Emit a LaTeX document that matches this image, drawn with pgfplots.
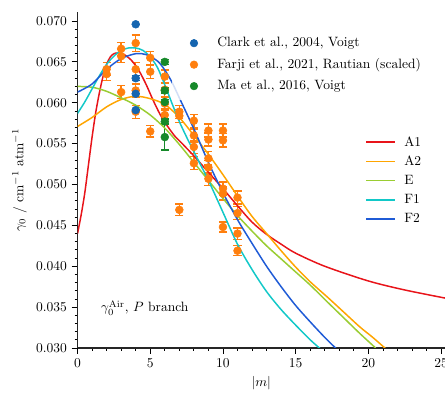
\documentclass[border=0pt]{standalone}
\usepackage{pgfplots}
\pgfplotsset{compat=1.18}

% data point colours
\definecolor{clarkblue}{HTML}{1565B0}
\definecolor{farjiorange}{HTML}{FF7F0E}
\definecolor{magreen}{HTML}{16892A}
% model curve colours
\definecolor{cA1}{HTML}{E8141A}
\definecolor{cA2}{HTML}{FFA500}
\definecolor{cE}{HTML}{9ACD32}
\definecolor{cF1}{HTML}{12C8C8}
\definecolor{cF2}{HTML}{1F5BD6}

% Farji et al. 2021 (Rautian, scaled): |m|, gamma0, error
\pgfplotstableread{
m  g       e
2  0.0641  0.0008
2  0.0635  0.0008
3  0.0666  0.0008
3  0.0657  0.0008
3  0.0613  0.0008
4  0.0673  0.0010
4  0.0641  0.0008
4  0.0615  0.0008
4  0.0589  0.0008
5  0.0655  0.0008
5  0.0638  0.0008
5  0.0565  0.0007
6  0.0632  0.0008
6  0.0616  0.0008
6  0.0599  0.0008
6  0.0585  0.0008
7  0.0589  0.0008
7  0.0584  0.0008
7  0.0469  0.0007
8  0.0578  0.0008
8  0.0560  0.0008
8  0.0546  0.0008
8  0.0526  0.0008
9  0.0566  0.0008
9  0.0555  0.0008
9  0.0532  0.0008
9  0.0521  0.0008
9  0.0507  0.0008
10 0.0566  0.0008
10 0.0554  0.0008
10 0.0495  0.0008
10 0.0489  0.0008
10 0.0448  0.0006
11 0.0484  0.0008
11 0.0465  0.0008
11 0.0440  0.0007
11 0.0419  0.0006
}\farji

% Clark et al. 2004 (Voigt)
\pgfplotstableread{
m  g       e
4  0.0696  0.0000
4  0.0630  0.0003
4  0.0611  0.0000
4  0.0591  0.0000
}\clark

% Ma et al. 2016 (Voigt)
\pgfplotstableread{
m  g       e
6  0.0650  0.0003
6  0.0615  0.0003
6  0.0601  0.0003
6  0.0577  0.0003
6  0.0558  0.0016
}\ma

\begin{document}
\begin{tikzpicture}
\pgfplotsset{
  common/.style={
    width=272pt, height=248.7pt, scale only axis,
    xmin=0, xmax=25.27, ymin=0.030, ymax=0.0711,
  },
  datapts/.style={
    only marks, mark=*, mark size=2.9pt, color=#1,
    mark options={fill=#1, draw=#1},
    error bars/.cd, y dir=both, y explicit,
    error bar style={line width=1pt, color=#1},
    error mark options={rotate=90, mark size=3pt, line width=1pt, color=#1},
    /pgfplots/.cd,
  },
  model/.style={color=#1, line width=1.1pt, smooth, tension=0.5, no markers},
}
\begin{axis}[common,
  axis x line*=bottom, axis y line*=left,
  axis line style={-, black!85, line width=0.8pt},
  tick align=outside, tick style={black, line width=0.6pt},
  major tick length=4.4pt, minor tick length=2.2pt,
  xtick={0,5,10,15,20,25}, minor x tick num=4,
  ytick={0.030,0.035,0.040,0.045,0.050,0.055,0.060,0.065,0.070}, minor y tick num=4,
  scaled y ticks=false,
  yticklabel style={/pgf/number format/fixed, /pgf/number format/fixed zerofill,
    /pgf/number format/precision=3},
  xlabel={$|m|$}, ylabel={$\gamma_0$ / cm$^{-1}$ atm$^{-1}$},
  legend cell align=left,
  legend style={at={(0.783,0.6378)}, anchor=north west, draw=none, fill=none,
    inner xsep=0pt, inner ysep=0pt, row sep=1.6pt, column sep=4pt,
    nodes={inner sep=2pt, text height=7pt, text depth=1.5pt}},
  legend image code/.code={\draw[#1, line width=1.4pt, sharp plot] (0cm,0cm) -- (0.75cm,0cm);},
]
% measurements
\addplot[forget plot, datapts=farjiorange] table[x=m, y=g, y error=e] {\farji};
\addplot[forget plot, datapts=clarkblue] table[x=m, y=g, y error=e] {\clark};
\addplot[forget plot, datapts=magreen] table[x=m, y=g, y error=e] {\ma};

% model curves
\addplot[model=cA1] coordinates {
(0,0.0440) (0.25,0.0463) (0.5,0.0490) (0.75,0.0524) (1.0,0.0558) (1.25,0.0588)
(1.5,0.0612) (1.75,0.0632) (2.0,0.0647) (2.25,0.0656) (2.5,0.0660) (2.8,0.0661)
(3.2,0.0659) (3.7,0.0652) (4.2,0.0640) (4.7,0.0623) (5.2,0.0603) (5.7,0.0585)
(6.2,0.0571) (6.7,0.0559) (7.2,0.0550) (8,0.0535) (9,0.0515) (10,0.0495)
(11,0.0474) (12,0.0454) (13,0.0439) (14,0.0427) (15,0.0416)
(17,0.0400) (20,0.0382) (22.5,0.0371) (25.3,0.0361)};
\addlegendentry{A1}
\addplot[model=cA2] coordinates {
(0,0.0571) (1,0.0582) (2,0.0595) (3,0.0604) (4,0.0608) (5,0.0605) (6,0.0598)
(7,0.0582) (8,0.0560) (9,0.0537) (10,0.0512) (11,0.0486) (12,0.0461) (13,0.0440)
(14,0.0419) (15,0.0399) (16,0.0381) (17.2,0.0362) (18.3,0.0344) (19.4,0.0326)
(20.3,0.0313) (21.2,0.0299)};
\addlegendentry{A2}
\addplot[model=cE] coordinates {
(0,0.0620) (1,0.0619) (2,0.0614) (3,0.0606) (4,0.0597) (5,0.0585) (6,0.0569)
(7,0.0549) (8,0.0527) (9,0.0505) (10,0.0483) (11,0.0462) (12,0.0443) (13,0.0425)
(14,0.0409) (15,0.0393) (16,0.0377) (17.2,0.0356) (18.3,0.0337) (19.4,0.0318)
(20.5,0.0300)};
\addlegendentry{E}
\addplot[model=cF1] coordinates {
(0,0.0587) (0.5,0.0601) (1,0.0617) (1.5,0.0633) (2,0.0647) (2.5,0.0657) (3,0.0664)
(3.5,0.0667) (4,0.0667) (4.5,0.0664) (5,0.0656) (5.5,0.0643) (6,0.0622) (6.5,0.0599)
(7,0.0577) (7.5,0.0558) (8,0.0540) (9,0.0505) (10,0.0466) (11,0.0427) (12,0.0396)
(13,0.0369) (14,0.0347) (15,0.0328) (16,0.0310) (16.7,0.0299)};
\addlegendentry{F1}
\addplot[model=cF2] coordinates {
(0,0.0613) (1,0.0623) (2,0.0641) (3,0.0654) (4,0.0660) (4.7,0.0659) (5.5,0.0651)
(6,0.0640) (6.5,0.0625) (7,0.0606) (8,0.0568) (9,0.0527) (10,0.0490) (11,0.0457)
(12,0.0428) (13,0.0400) (14,0.0375) (15,0.0352) (16,0.0332) (17,0.0313) (17.8,0.0299)};
\addlegendentry{F2}

\node[anchor=west] at (axis cs:1.3,0.0349) {$\gamma_0^{\mathrm{Air}}$, $P$ branch};
\end{axis}

% legend for the measurements, drawn over everything
\begin{axis}[common, hide axis,
  legend cell align=left,
  legend style={at={(0.2572,0.9493)}, anchor=north west, draw=none,
    fill=white, fill opacity=0.8, text opacity=1,
    inner xsep=7.3pt, inner ysep=4pt, row sep=3.4pt, column sep=6.5pt,
    nodes={inner sep=2pt, text height=7pt, text depth=1.5pt}},
  legend image code/.code={\fill[#1] (0.3cm,0cm) circle (2.8pt); \path (0cm,0cm) (0.6cm,0cm);},
]
\addlegendimage{clarkblue, fill opacity=1}
\addlegendentry{Clark et al., 2004, Voigt}
\addlegendimage{farjiorange, fill opacity=1}
\addlegendentry{Farji et al., 2021, Rautian (scaled)}
\addlegendimage{magreen, fill opacity=1}
\addlegendentry{Ma et al., 2016, Voigt}
\end{axis}

\pgfresetboundingbox
\path ([xshift=-57.4pt,yshift=-33.6pt]current axis.south west)
  rectangle ([yshift=8.9pt]current axis.north east);
\end{tikzpicture}
\end{document}
